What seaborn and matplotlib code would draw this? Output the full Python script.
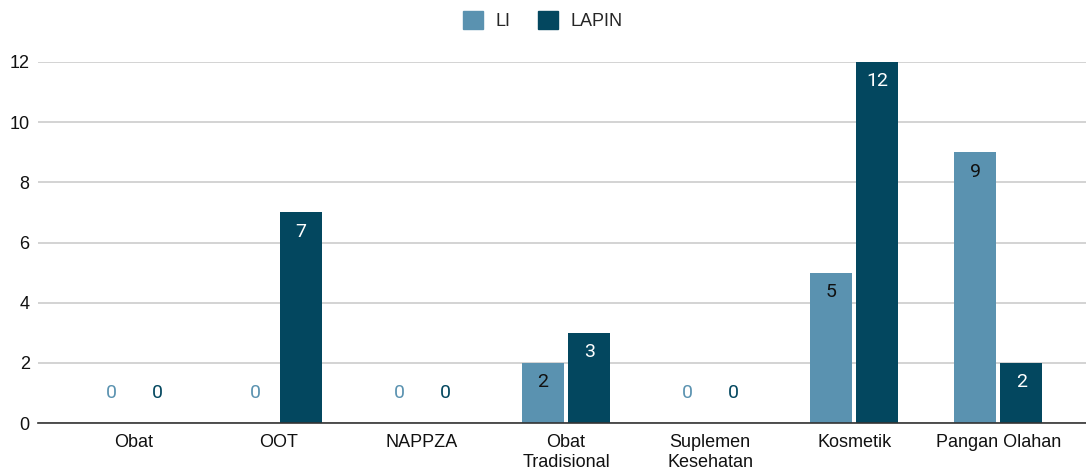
import pandas as pd
import matplotlib
matplotlib.use("Agg")
import matplotlib.pyplot as plt
import seaborn as sns

categories = ["Obat", "OOT", "NAPPZA", "Obat\nTradisional", "Suplemen\nKesehatan", "Kosmetik", "Pangan Olahan"]
li = [0, 0, 0, 2, 0, 5, 9]
lapin = [0, 7, 0, 3, 0, 12, 2]
series = ["LI", "LAPIN"]
colors = {"LI": "#5a92b0", "LAPIN": "#03475f"}
text_in = {"LI": "#111111", "LAPIN": "#ffffff"}

df = pd.DataFrame({
    "Kategori": categories * 2,
    "Jumlah": li + lapin,
    "Seri": ["LI"] * len(li) + ["LAPIN"] * len(lapin),
})

sns.set_style("white")
plt.rcParams['font.family'] = ['Liberation Sans', 'DejaVu Sans']

fig = plt.figure(figsize=(10.86, 4.75), dpi=100)
ax = fig.add_axes([38 / 1086, 1 - 423 / 475, 1 - 38 / 1086, (423 - 62) / 475])

sns.barplot(data=df, x="Kategori", y="Jumlah", hue="Seri", hue_order=series,
            palette=colors, width=0.64, gap=0.08, saturation=1, ax=ax,
            legend=False, linewidth=0, zorder=3)

# bar labels: zero above axis in series colour, others inside the top
for cont, s in zip(ax.containers, series):
    for bar, v in zip(cont, df[df["Seri"] == s]["Jumlah"]):
        xc = bar.get_x() + bar.get_width() / 2
        if v == 0:
            ax.text(xc, 1.0, "0", ha="center", va="center", fontsize=14,
                    family="Roboto", color=colors[s], zorder=4)
        else:
            ax.annotate(str(v), (xc, v), xytext=(0, -14), textcoords="offset points",
                        ha="center", va="center", fontsize=14, family="Roboto",
                        color=text_in[s], zorder=4)

ax.set_ylim(0, 12)
ax.set_xlim(-0.667, 6.61)
ax.set_yticks(range(0, 13, 2))
ax.yaxis.grid(True, color="#cccccc", linewidth=1.2, zorder=0)
ax.set_axisbelow(True)
ax.tick_params(axis="both", length=0, labelsize=13, colors="#111111")
ax.tick_params(axis="x", pad=8)
ax.tick_params(axis="y", pad=6)
ax.set_xlabel("")
ax.set_ylabel("")
for side in ["top", "right", "left"]:
    ax.spines[side].set_visible(False)
ax.spines["bottom"].set_color("#333333")
ax.spines["bottom"].set_linewidth(1.2)
ax.spines["bottom"].set_zorder(5)

handles = [plt.Rectangle((0, 0), 1, 1, color=colors[s]) for s in series]
fig.legend(handles, series, loc="upper center", bbox_to_anchor=(0.5, 1.01), ncol=2,
           frameon=False, fontsize=13, handlelength=1.1, handleheight=1.1,
           columnspacing=1.5, handletextpad=0.7)

fig.savefig("out.png", dpi=100)
